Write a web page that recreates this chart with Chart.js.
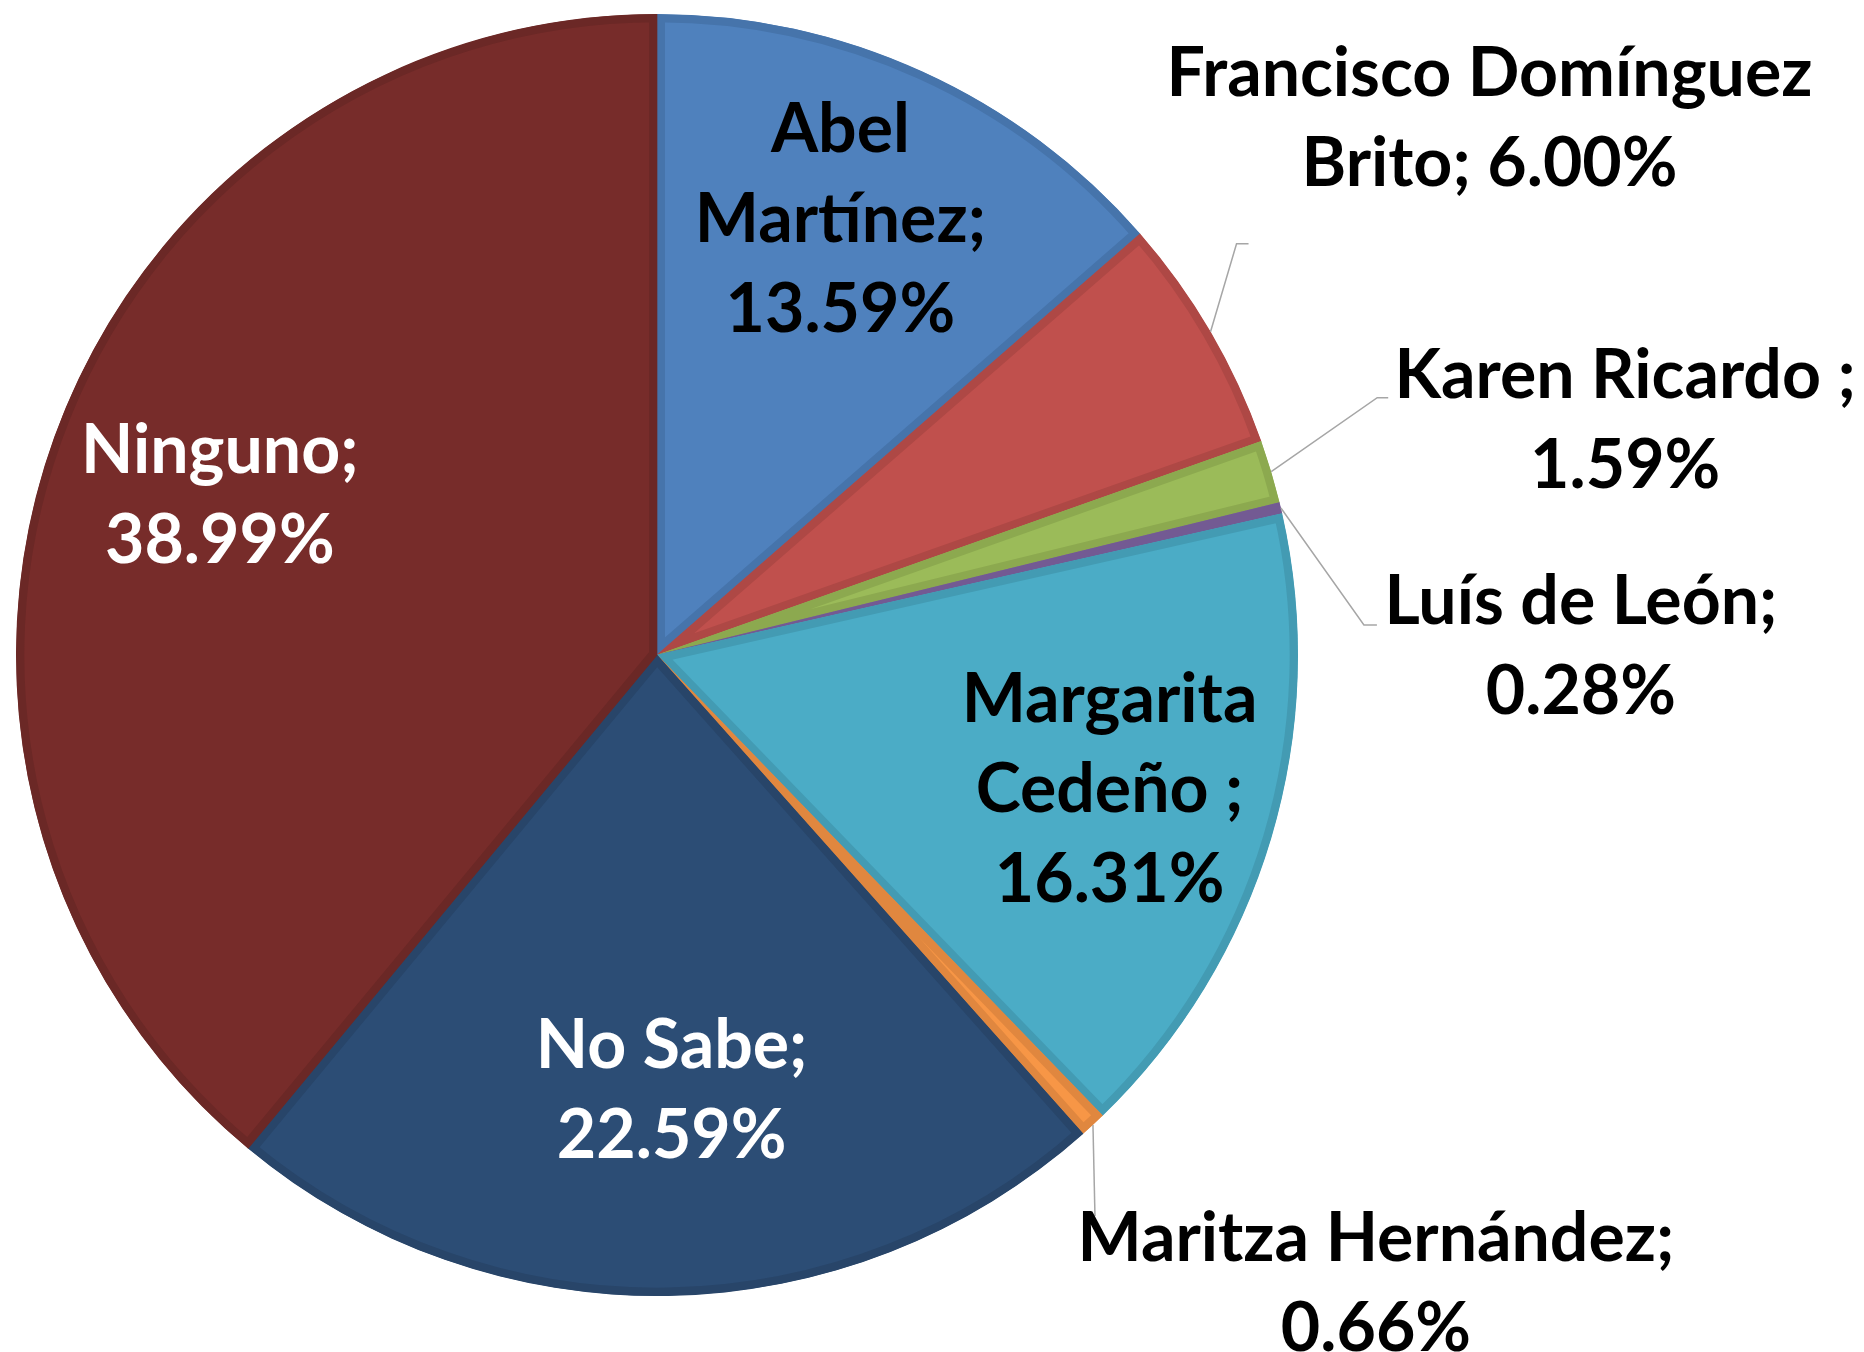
<!DOCTYPE html>
<html>
<head>
<meta charset="utf-8">
<script src="https://cdn.jsdelivr.net/npm/chart.js@4.4.0/dist/chart.umd.min.js"></script>
<style>
  html, body { margin: 0; padding: 0; background: #fff; }
  #wrap { width: 1864px; height: 1352px; }
</style>
</head>
<body>
<div id="wrap"><canvas id="myChart" width="1864" height="1352"></canvas></div>
<script>
// slices, clockwise from 12 o'clock
const candidates = ['Abel Martínez', 'Francisco Domínguez Brito', 'Karen Ricardo ', 'Luís de León',
  'Margarita Cedeño ', 'Maritza Hernández', 'No Sabe', 'Ninguno'];
const shares = [13.59, 6.00, 1.59, 0.28, 16.31, 0.66, 22.59, 38.99];
// how the name is broken in the label
const nameLines = [['Abel', 'Martínez;'], ['Francisco Domínguez', 'Brito;'], ['Karen Ricardo ;'], ['Luís de León;'],
  ['Margarita', 'Cedeño ;'], ['Maritza Hernández;'], ['No Sabe;'], ['Ninguno;']];

const fills = ['#4F81BD', '#C0504D', '#9BBB59', '#8064A2', '#4BACC6', '#F79646', '#2C4D75', '#772C2A'];
const edges = ['#4674AB', '#AE4845', '#8CA94F', '#735A93', '#439BB3', '#E0873F', '#284569', '#6B2826'];
const textColors = ['#000', '#000', '#000', '#000', '#000', '#000', '#fff', '#fff'];

// label placement (inside: fraction of radius + nudge; outside: offsets from the slice edge)
const pctInline = [false, true, false, false, false, false, false, false];
const outside = [false, true, true, true, false, true, false, false];
const insideR = [0.74, 0, 0, 0, 0.74, 0, 0.68, 0.73];
const insideNudge = [[-13, -3], null, null, null, [-2, 0], null, [7, 0], [3, 0]];
const elbows = [null, [26, -88, 12], [106, -74, 11], [83, 117, 13], null, [2, 91, 0], null, null];
const labelOffsets = [null, [279, -213], [354, -51], [300, 139], null, [283, 159], null, null];
const lineH = 90;

const sliceLabels = {
  id: 'sliceLabels',
  afterDatasetsDraw(chart) {
    const ctx = chart.ctx;
    const arcs = chart.getDatasetMeta(0).data;
    ctx.save();
    ctx.font = 'bold 68px Lato';
    ctx.textAlign = 'center';
    ctx.textBaseline = 'middle';
    arcs.forEach((arc, i) => {
      const p = arc.getProps(['x', 'y', 'startAngle', 'endAngle', 'outerRadius'], true);
      const mid = (p.startAngle + p.endAngle) / 2;
      const pct = shares[i].toFixed(2) + '%';
      const lines = nameLines[i].slice();
      if (pctInline[i]) lines[lines.length - 1] += ' ' + pct;
      else lines.push(pct);

      let cx, cy;
      if (outside[i]) {
        const ax = p.x + Math.cos(mid) * p.outerRadius;
        const ay = p.y + Math.sin(mid) * p.outerRadius;
        const e = elbows[i];
        ctx.strokeStyle = '#a6a6a6';
        ctx.lineWidth = 1.5;
        ctx.beginPath();
        ctx.moveTo(ax, ay);
        ctx.lineTo(ax + e[0], ay + e[1]);
        ctx.lineTo(ax + e[0] + e[2], ay + e[1]);
        ctx.stroke();
        cx = ax + labelOffsets[i][0];
        cy = ay + labelOffsets[i][1];
      } else {
        cx = p.x + Math.cos(mid) * p.outerRadius * insideR[i] + insideNudge[i][0];
        cy = p.y + Math.sin(mid) * p.outerRadius * insideR[i] + insideNudge[i][1];
      }
      ctx.fillStyle = textColors[i];
      lines.forEach((t, k) => {
        ctx.fillText(t, cx, cy + (k - (lines.length - 1) / 2) * lineH);
      });
    });
    ctx.restore();
  }
};

const ctx = document.getElementById('myChart');
const myChart = new Chart(ctx, {
  type: 'pie',
  data: {
    labels: candidates,
    datasets: [{
      data: shares,
      backgroundColor: fills,
      borderColor: edges,
      borderWidth: 8,
      borderAlign: 'inner'
    }]
  },
  options: {
    responsive: false,
    animation: false,
    layout: { padding: { left: 16, top: 14, right: 566, bottom: 56 } },
    plugins: {
      legend: { display: false },
      tooltip: { enabled: false }
    }
  },
  plugins: [sliceLabels]
});
</script>
</body>
</html>
